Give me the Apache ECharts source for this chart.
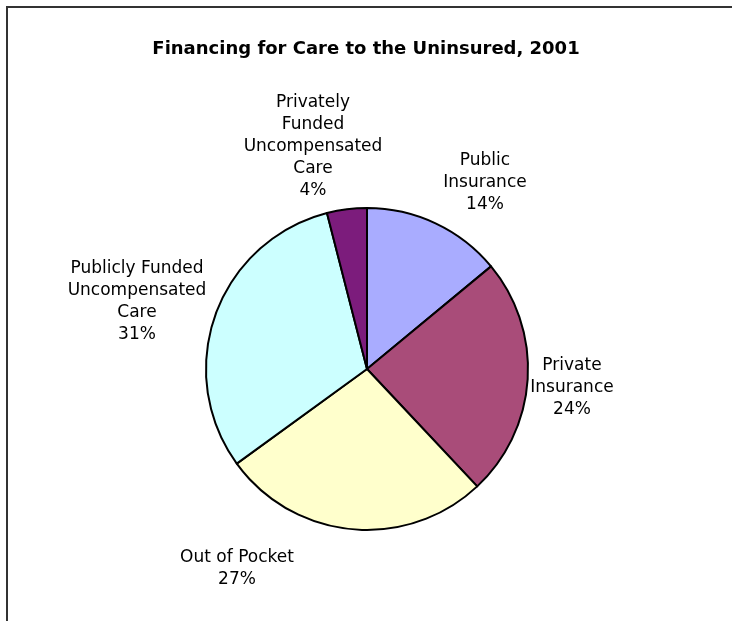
<!DOCTYPE html>
<html>
<head>
<meta charset="utf-8">
<title>Financing for Care to the Uninsured, 2001</title>
<script src="https://cdn.jsdelivr.net/npm/echarts@6/dist/echarts.min.js"></script>
<style>
html, body { margin: 0; padding: 0; background: #ffffff; }
#chart { width: 732px; height: 621px; }
</style>
</head>
<body>
<div id="chart"></div>
<script>
// 数据
var categories = ['Public\nInsurance', 'Private\nInsurance', 'Out of Pocket', 'Publicly Funded\nUncompensated\nCare', 'Privately\nFunded\nUncompensated\nCare'];
var shares = [14, 24, 27, 31, 4];
var colors = ['#A9ACFF', '#A94C79', '#FFFFCC', '#CCFFFF', '#7C1C7C'];

// 标签位置 (Excel 风格, 文本中心)
var labelPos = [[485, 183], [572, 388], [237, 569], [137, 302], [313, 147]];

var pieData = [];
for (var i = 0; i < categories.length; i++) {
	pieData.push({ name: categories[i], value: shares[i], itemStyle: { color: colors[i] } });
}

var myChart = echarts.init(document.getElementById('chart'));
var option = {
	animation: false,
	backgroundColor: '#ffffff',
	title: {
		text: 'Financing for Care to the Uninsured, 2001',
		left: 'center',
		top: 35,
		textStyle: {
			fontFamily: 'DejaVu Sans',
			fontSize: 18,
			fontWeight: 'bold',
			color: '#000000'
		}
	},
	graphic: [{
		type: 'rect',
		shape: { x: 7, y: 7, width: 900, height: 900 },
		style: { fill: 'none', stroke: '#333333', lineWidth: 2 },
		silent: true
	}],
	series: [{
		type: 'pie',
		center: [367, 369],
		radius: 161,
		startAngle: 90,
		clockwise: true,
		percentPrecision: 0,
		avoidLabelOverlap: false,
		data: pieData,
		itemStyle: {
			borderColor: '#000000',
			borderWidth: 2
		},
		label: {
			show: true,
			position: 'outside',
			formatter: '{b}\n{d}%',
			fontFamily: 'DejaVu Sans',
			fontSize: 17,
			lineHeight: 22,
			color: '#000000',
			align: 'center'
		},
		labelLine: { show: false },
		labelLayout: function(params) {
			var p = labelPos[params.dataIndex];
			return { x: p[0], y: p[1], align: 'center', verticalAlign: 'middle' };
		},
		emphasis: { disabled: true }
	}]
};
myChart.setOption(option);
</script>
</body>
</html>
